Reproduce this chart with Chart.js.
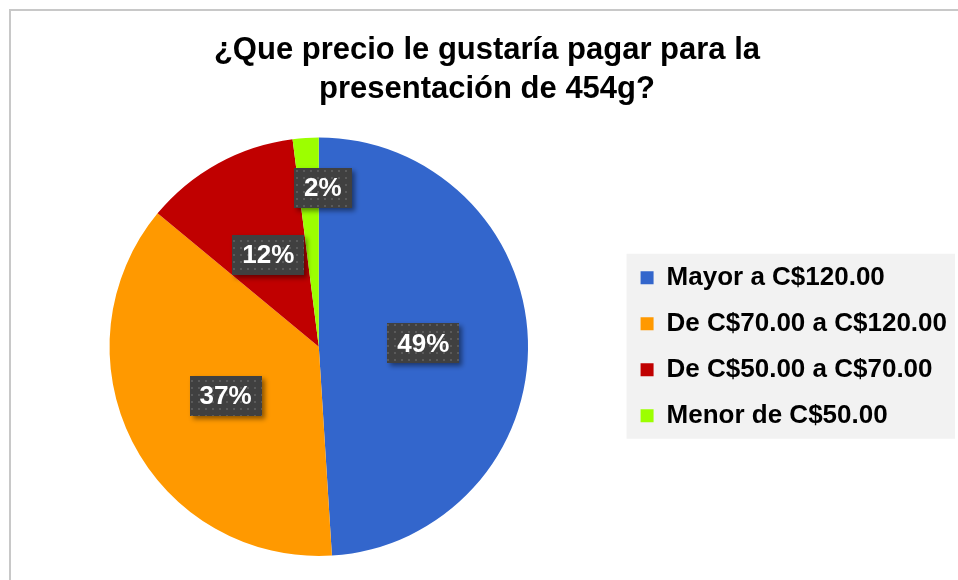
<!DOCTYPE html>
<html>
<head>
<meta charset="utf-8">
<script src="https://cdn.jsdelivr.net/npm/chart.js@4"></script>
<style>
  body { margin: 0; background: #fff; }
  #wrap { width: 958px; height: 580px; }
</style>
</head>
<body>
<div id="wrap"><canvas id="chart1" width="958" height="580"></canvas></div>
<script>
const labels = ['Mayor a C$120.00', 'De C$70.00 a C$120.00', 'De C$50.00 a C$70.00', 'Menor de C$50.00'];
const values = [49, 37, 12, 2];
const colors = ['#3366CC', '#FF9900', '#C00000', '#9CFF00'];

// dotted dark texture used behind the percentage labels
function makePattern(ctx) {
  const c = document.createElement('canvas');
  c.width = 7; c.height = 7;
  const p = c.getContext('2d');
  p.fillStyle = '#404040';
  p.fillRect(0, 0, 7, 7);
  p.fillStyle = '#5a5a5a';
  p.fillRect(2, 2, 2, 2);
  return ctx.createPattern(c, 'repeat');
}

// frame + grey legend background
const framePlugin = {
  id: 'frame',
  beforeDraw(chart) {
    const ctx = chart.ctx;
    ctx.save();
    ctx.strokeStyle = '#C8C8C8';
    ctx.lineWidth = 2;
    ctx.beginPath();
    ctx.moveTo(10, 580);
    ctx.lineTo(10, 10);
    ctx.lineTo(958, 10);
    ctx.stroke();
    const boxes = chart.legend.legendHitBoxes;
    if (boxes && boxes.length) {
      const first = boxes[0], last = boxes[boxes.length - 1];
      const top = first.top - 11;
      const bottom = last.top + last.height + 10;
      ctx.fillStyle = '#F2F2F2';
      ctx.fillRect(first.left - 14, top, 955 - (first.left - 14), bottom - top);
    }
    ctx.restore();
  }
};

// percentage labels in dark boxes
const boxLabels = {
  id: 'boxLabels',
  afterDatasetsDraw(chart, args, opts) {
    const ctx = chart.ctx;
    const meta = chart.getDatasetMeta(0);
    const pattern = makePattern(ctx);
    ctx.save();
    ctx.font = 'bold 26px "Liberation Sans", Arial, sans-serif';
    ctx.textAlign = 'center';
    ctx.textBaseline = 'middle';
    meta.data.forEach((arc, i) => {
      const {x, y, startAngle, endAngle, outerRadius} = arc.getProps(['x', 'y', 'startAngle', 'endAngle', 'outerRadius'], true);
      const mid = (startAngle + endAngle) / 2;
      const r = outerRadius * opts.radius[i];
      const cx = x + Math.cos(mid) * r + opts.shift[i][0];
      const cy = y + Math.sin(mid) * r + opts.shift[i][1];
      const text = values[i] + '%';
      const w = ctx.measureText(text).width + 20;
      const h = 40;
      ctx.save();
      ctx.shadowColor = 'rgba(0,0,0,0.45)';
      ctx.shadowBlur = 5;
      ctx.shadowOffsetX = 3;
      ctx.shadowOffsetY = 3;
      ctx.fillStyle = pattern;
      ctx.fillRect(Math.round(cx - w / 2), Math.round(cy - h / 2), Math.round(w), h);
      ctx.restore();
      ctx.fillStyle = '#FFFFFF';
      ctx.fillText(text, cx, cy + 1);
    });
    ctx.restore();
  }
};

new Chart(document.getElementById('chart1'), {
  type: 'pie',
  data: {
    labels: labels,
    datasets: [{
      data: values,
      backgroundColor: colors,
      borderWidth: 0,
      hoverOffset: 0
    }]
  },
  options: {
    responsive: false,
    maintainAspectRatio: false,
    animation: false,
    layout: {
      padding: { left: 17, right: 1, top: 10, bottom: 24 }
    },
    plugins: {
      title: {
        display: true,
        text: ['¿Que precio le gustaría pagar para la', 'presentación de 454g?'],
        color: '#000',
        font: { family: '"Liberation Sans", Arial, sans-serif', size: 31, weight: 'bold', lineHeight: 1.25 },
        padding: { top: 21, bottom: 29 }
      },
      legend: {
        position: 'right',
        fullSize: false,
        labels: {
          color: '#000',
          boxWidth: 13,
          boxHeight: 13,
          padding: 20,
          font: { family: '"Liberation Sans", Arial, sans-serif', size: 26, weight: 'bold' }
        }
      },
      tooltip: { enabled: false },
      boxLabels: {
        radius: [0.5, 0.5, 0.5, 0.76],
        shift: [[0, 0], [0, 2], [0, 0], [14, 0]]
      }
    }
  },
  plugins: [framePlugin, boxLabels]
});
</script>
</body>
</html>
